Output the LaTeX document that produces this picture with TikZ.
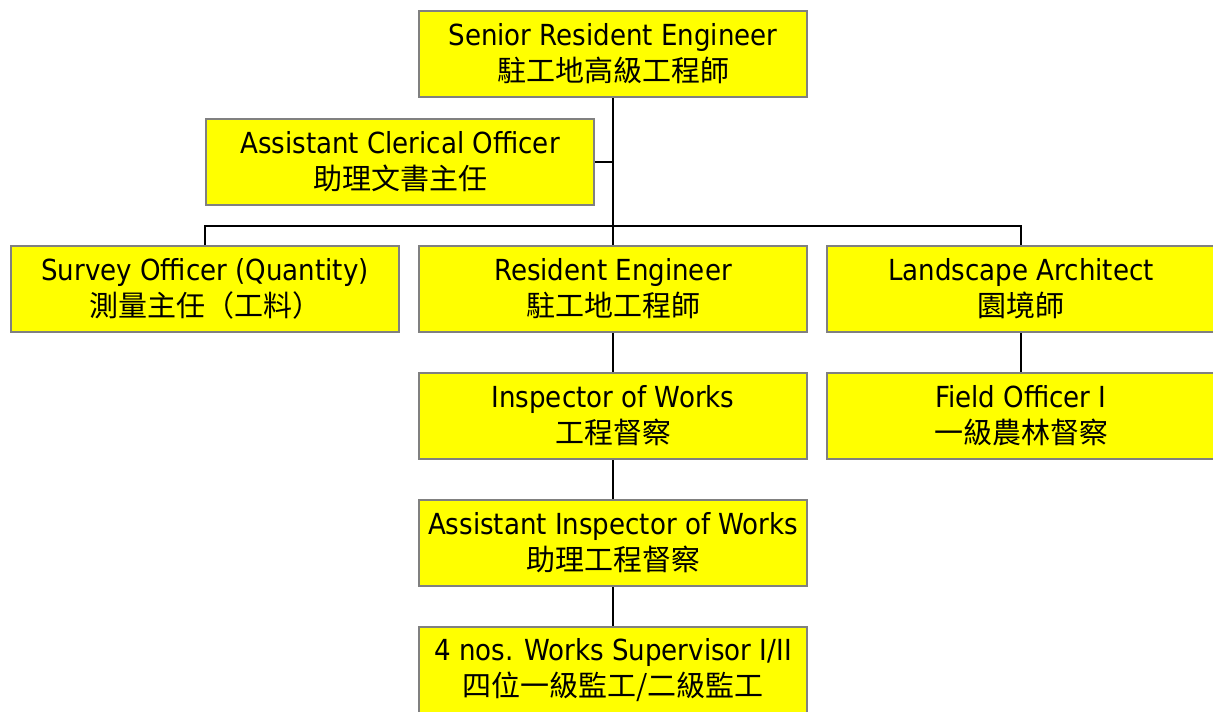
\documentclass[tikz,border=0pt]{standalone}
\usepackage{fontspec}
\setmainfont{DejaVu Sans Condensed}
\newfontfamily\cjk{Noto Sans CJK TC}
\usetikzlibrary{positioning}
\definecolor{postyellow}{RGB}{255,255,0}
\tikzset{
  post/.style={rectangle, draw=gray, line width=1pt, fill=postyellow,
    minimum width=194pt, minimum height=43pt, inner sep=0pt, align=center,
    font=\fontsize{14.5}{18}\selectfont},
  link/.style={draw=black, line width=1pt}
}
\begin{document}
\begin{tikzpicture}[x=0.5pt, y=-0.5pt]
        \useasboundingbox (0,0) rectangle (1213,711);
        % Posts (top to bottom)
        \node (sre)  at (613,54)  [post] {Senior Resident Engineer\\{\cjk 駐工地高級工程師}};
        \node (aco)  at (400,162) [post] {Assistant Clerical Officer\\{\cjk 助理文書主任}};
        \node (soq)  at (205,289) [post] {Survey Officer (Quantity)\\{\cjk 測量主任（工料）}};
        \node (re)   at (613,289) [post] {Resident Engineer\\{\cjk 駐工地工程師}};
        \node (la)   at (1021,289) [post] {Landscape Architect\\{\cjk 園境師}};
        \node (iow)  at (613,416) [post] {Inspector of Works\\{\cjk 工程督察}};
        \node (fo)   at (1021,416) [post] {Field Officer I\\{\cjk 一級農林督察}};
        \node (aiow) at (613,543) [post] {Assistant Inspector of Works\\{\cjk 助理工程督察}};
        \node (ws)   at (613,670) [post] {4 nos. Works Supervisor I/II\\{\cjk 四位一級監工/二級監工}};
        \coordinate (bus) at (613,226);
        % Links
        \draw[link] (sre.south) -- (bus);
        \draw[link] (aco.east) -- (aco.east -| sre.south);
        \draw[link] (soq.north) |- (bus) -| (la.north);
        \draw[link] (bus) -- (re.north);
        \draw[link] (re.south) -- (iow.north);
        \draw[link] (iow.south) -- (aiow.north);
        \draw[link] (aiow.south) -- (ws.north);
        \draw[link] (la.south) -- (fo.north);
      \end{tikzpicture}
\end{document}
